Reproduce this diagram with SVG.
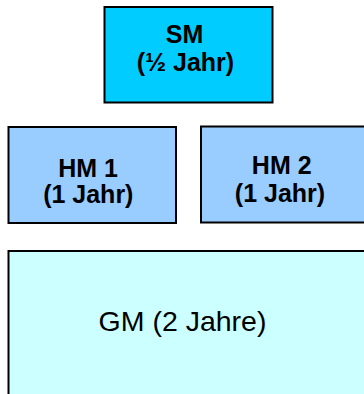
<svg xmlns="http://www.w3.org/2000/svg" width="364" height="394" viewBox="0 0 364 394">
<style>
.box{stroke:#000;stroke-width:2}
.b{font-family:"Liberation Sans",Arial,sans-serif;font-weight:bold;font-size:25px;fill:#000;text-anchor:middle}
.r{font-family:"Liberation Sans",Arial,sans-serif;font-size:28.5px;fill:#000;text-anchor:middle}
</style>
<rect width="364" height="394" fill="#fff"/>
<g id="connectors"></g>
<g id="SM">
<rect class="box" x="104.5" y="7" width="168" height="95.5" fill="#00CCFF"/>
<text class="b" x="184.5" y="43">SM</text>
<text class="b" x="185.5" y="71">(½ Jahr)</text>
</g>
<g id="HM1">
<rect class="box" x="8.5" y="127" width="167.5" height="96" fill="#99CCFF"/>
<text class="b" x="88" y="177">HM 1</text>
<text class="b" x="88.3" y="203">(1 Jahr)</text>
</g>
<g id="HM2">
<rect class="box" x="201" y="126.5" width="167.5" height="96" fill="#99CCFF"/>
<text class="b" x="281.7" y="174">HM 2</text>
<text class="b" x="280" y="202">(1 Jahr)</text>
</g>
<g id="GM">
<rect class="box" x="8.5" y="251" width="370" height="160" fill="#CCFFFF"/>
<text class="r" x="182.5" y="331">GM (2 Jahre)</text>
</g>
</svg>
